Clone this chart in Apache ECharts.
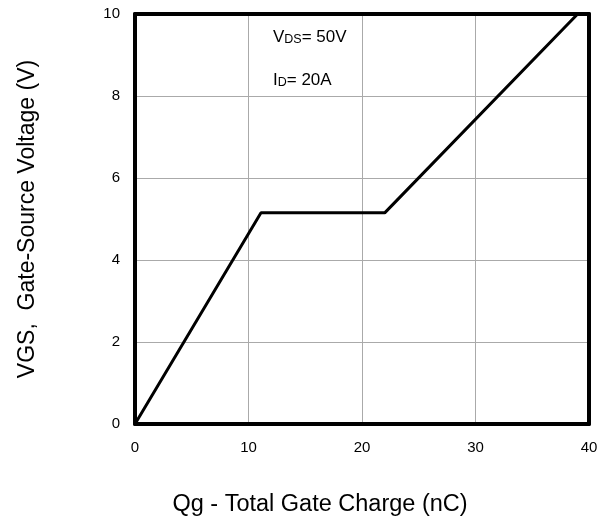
<!DOCTYPE html>
<html>
<head>
<meta charset="utf-8">
<script src="https://cdn.jsdelivr.net/npm/echarts@6/dist/echarts.min.js"></script>
<style>
  html, body { margin: 0; padding: 0; background: #fff; }
  #chart { width: 608px; height: 523px; }
</style>
</head>
<body>
<div id="chart"></div>
<script>
// Qg (nC) vs VGS (V)
var qg = [0, 11.1, 22.0, 39.0];
var vgs = [0, 5.15, 5.15, 10];
var xTicks = [0, 10, 20, 30, 40];
var yTicks = [0, 2, 4, 6, 8, 10];

var font = '"Liberation Sans", Arial, sans-serif';
var chart = echarts.init(document.getElementById('chart'));

var pts = [];
for (var i = 0; i < qg.length; i++) {
    pts.push([qg[i], vgs[i]]);
}

var xMin = xTicks[0], xMax = xTicks[xTicks.length - 1];
var yMin = yTicks[0], yMax = yTicks[yTicks.length - 1];
// thick black frame round the plot
var frame = { show: true, onZero: false, lineStyle: { color: '#000', width: 4 } };

var rich = {
    a: { fontFamily: font, fontSize: 17, fill: '#000' },
    b: { fontFamily: font, fontSize: 12.5, fill: '#000', verticalAlign: 'bottom' }
};

var option = {
    backgroundColor: '#fff',
    animation: false,
    grid: { left: 135, right: 19, top: 14, bottom: 99 },
    xAxis: [{
        type: 'value',
        min: xMin, max: xMax, interval: 10,
        name: 'Qg - Total Gate Charge (nC)',
        nameLocation: 'middle',
        nameGap: 69,
        // title sits left of the plot centre
        nameTextStyle: { fontFamily: font, fontSize: 23.5, color: '#000', padding: [0, 84, 0, 0] },
        axisLine: frame,
        axisTick: { show: false },
        axisLabel: { fontFamily: font, fontSize: 15, color: '#000', margin: 16 },
        splitLine: { show: true, lineStyle: { color: '#aaa', width: 1 } }
    }, {
        type: 'value', position: 'top',
        min: xMin, max: xMax, interval: 10,
        axisLine: frame,
        axisTick: { show: false },
        axisLabel: { show: false },
        splitLine: { show: false }
    }],
    yAxis: [{
        type: 'value',
        min: yMin, max: yMax, interval: 2,
        name: 'VGS,  Gate-Source Voltage (V)',
        nameLocation: 'middle',
        nameGap: 96,
        nameTextStyle: { fontFamily: font, fontSize: 23, color: '#000' },
        axisLine: frame,
        axisTick: { show: false },
        axisLabel: { fontFamily: font, fontSize: 15, color: '#000', margin: 15 },
        splitLine: { show: true, lineStyle: { color: '#aaa', width: 1 } }
    }, {
        type: 'value', position: 'right',
        min: yMin, max: yMax, interval: 2,
        axisLine: frame,
        axisTick: { show: false },
        axisLabel: { show: false },
        splitLine: { show: false }
    }],
    graphic: [
        {
            type: 'text', left: 273, top: 29,
            style: { text: '{a|V}{b|DS}{a|= 50V}', rich: rich }
        },
        {
            type: 'text', left: 273, top: 72,
            style: { text: '{a|I}{b|D}{a|= 20A}', rich: rich }
        }
    ],
    series: [{
        type: 'line',
        data: pts,
        symbol: 'none',
        lineStyle: { color: '#000', width: 3 },
        z: 5
    }]
};

chart.setOption(option);
</script>
</body>
</html>
